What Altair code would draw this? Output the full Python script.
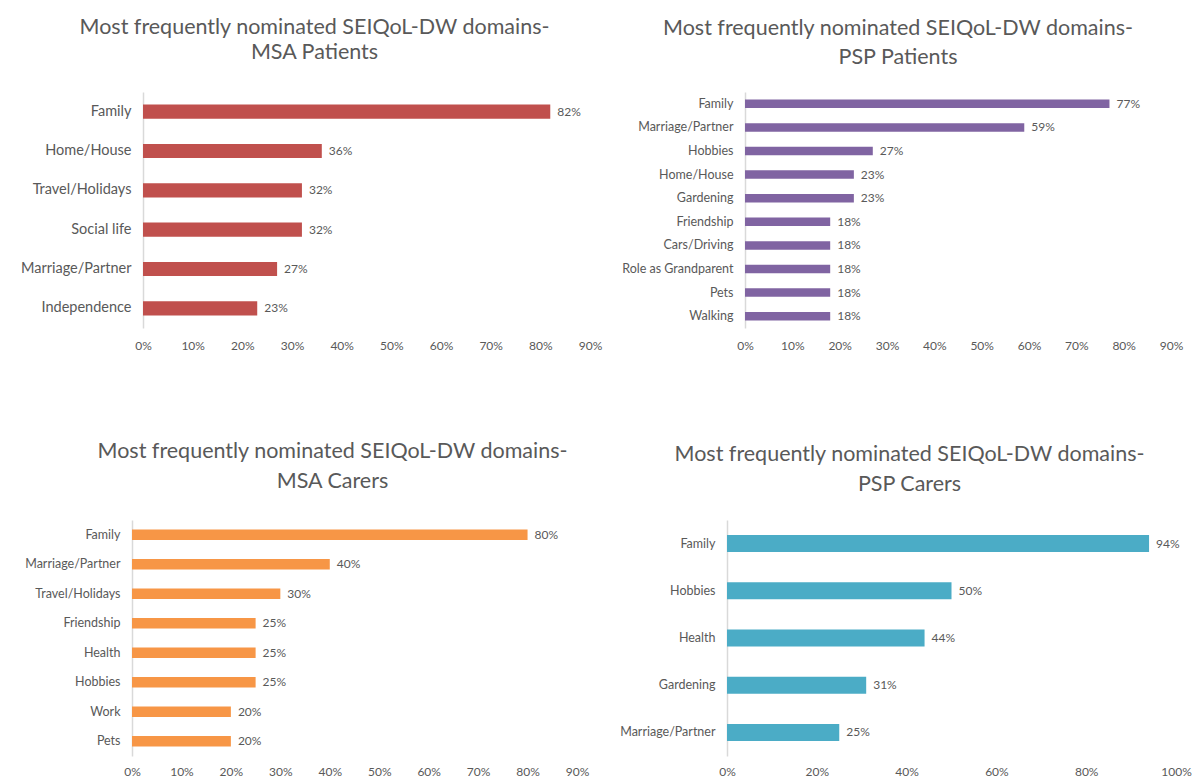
import altair as alt
import pandas as pd

FONT = "Lato"
TXT = "#595959"
AXIS_LINE = "#D9D9D9"

# ---- data ----
msa_pat_domains = ["Family", "Home/House", "Travel/Holidays", "Social life", "Marriage/Partner", "Independence"]
msa_pat_values = [0.82, 0.36, 0.32, 0.32, 0.27, 0.23]

psp_pat_domains = ["Family", "Marriage/Partner", "Hobbies", "Home/House", "Gardening", "Friendship",
                   "Cars/Driving", "Role as Grandparent", "Pets", "Walking"]
psp_pat_values = [0.77, 0.59, 0.27, 0.23, 0.23, 0.18, 0.18, 0.18, 0.18, 0.18]

msa_car_domains = ["Family", "Marriage/Partner", "Travel/Holidays", "Friendship", "Health", "Hobbies", "Work", "Pets"]
msa_car_values = [0.80, 0.40, 0.30, 0.25, 0.25, 0.25, 0.20, 0.20]

psp_car_domains = ["Family", "Hobbies", "Health", "Gardening", "Marriage/Partner"]
psp_car_values = [0.94, 0.50, 0.44, 0.31, 0.25]

ticks_90 = [0, 0.1, 0.2, 0.3, 0.4, 0.5, 0.6, 0.7, 0.8, 0.9]
ticks_100 = [0, 0.2, 0.4, 0.6, 0.8, 1.0]

TITLE_MAIN = "Most frequently nominated SEIQoL-DW domains-"


def panel(domains, values, color, subtitle, width, height, xmax, tick_vals, extent,
          label_size, title_dx, line_height, title_offset, xlabel_pad):
    df = pd.DataFrame({"domain": domains, "value": values})
    y_axis = alt.Axis(minExtent=extent, maxExtent=extent, labelFontSize=label_size, labelColor=TXT,
                      labelFont=FONT, labelPadding=12, ticks=False, domainColor=AXIS_LINE,
                      domainWidth=1.5, labelLimit=300)
    y_enc = alt.Y("domain:N", sort=domains, title=None,
                  scale=alt.Scale(paddingInner=0.64, paddingOuter=0.32), axis=y_axis)
    x_axis = alt.Axis(values=tick_vals, format=".0%", grid=False, domain=False, ticks=False,
                      labelFlush=False, labelOverlap=False,
                      labelFontSize=12, labelFont=FONT, labelColor=TXT, labelPadding=xlabel_pad)
    x_enc = alt.X("value:Q", title=None, scale=alt.Scale(domain=[0, xmax], nice=False), axis=x_axis)
    bars = alt.Chart(df).mark_bar(color=color).encode(x=x_enc, y=y_enc)
    labels = alt.Chart(df).mark_text(align="left", baseline="middle", dx=7, fontSize=12,
                                     font=FONT, color=TXT).encode(
        x=alt.X("value:Q"), y=alt.Y("domain:N", sort=domains),
        text=alt.Text("value:Q", format=".0%"))
    return alt.layer(bars, labels).properties(
        width=width, height=height,
        title=alt.Title([TITLE_MAIN, subtitle], fontSize=21.5, font=FONT, fontWeight="normal",
                        color=TXT, anchor="middle", frame="group", dx=title_dx,
                        lineHeight=line_height, offset=title_offset))


def spacer():
    return alt.Chart(pd.DataFrame({"v": [0]})).mark_text(text="").encode(
        x=alt.value(0), y=alt.value(0)).properties(width=1, height=1)


p1 = panel(msa_pat_domains, msa_pat_values, "#C0504D", "MSA Patients", 447, 236, 0.9, ticks_90,
           134, 14.5, -52, 25, 29, 12)
p2 = panel(psp_pat_domains, psp_pat_values, "#8064A2", "PSP Patients", 426, 236, 0.9, ticks_90,
           143, 12.5, -60, 29, 24, 12)
p3 = panel(msa_car_domains, msa_car_values, "#F79646", "MSA Carers", 445, 236, 0.9, ticks_90,
           123, 12.5, -22, 30, 28, 10)
p4 = panel(psp_car_domains, psp_car_values, "#4BACC6", "PSP Carers", 449, 236, 1.0, ticks_100,
           138, 12.5, -42, 30, 25, 10)

row1 = alt.hconcat(spacer(), p1, p2, spacing=0)
row2 = alt.hconcat(spacer(), p3, p4, spacing=0)

chart = alt.vconcat(row1, row2, spacing=89).properties(
    padding={"left": 0, "top": 8, "right": 0, "bottom": 0},
    background="white"
).configure_view(stroke=None)

chart.save("out.html", embed_options={"renderer": "svg", "actions": False})
